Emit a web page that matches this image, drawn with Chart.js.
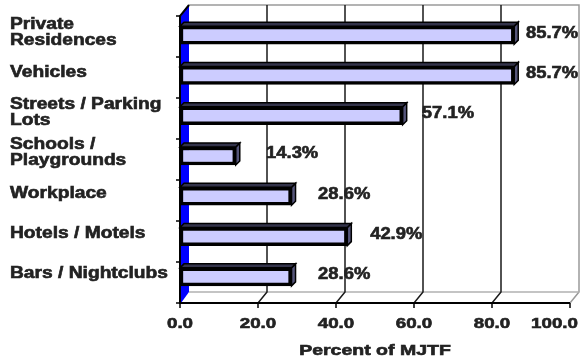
<!DOCTYPE html>
<html>
<head>
<meta charset="utf-8">
<script src="https://cdn.jsdelivr.net/npm/chart.js@4/dist/chart.umd.min.js"></script>
<style>
  html, body { margin: 0; padding: 0; background: #fff; }
  canvas { display: block; }
</style>
</head>
<body>
<canvas id="chart-places" width="582" height="364"></canvas>
<script>
const categories = [
  ["Private", "Residences"],
  "Vehicles",
  ["Streets / Parking", "Lots"],
  ["Schools /", "Playgrounds"],
  "Workplace",
  "Hotels / Motels",
  "Bars / Nightclubs",
];
const percents = [85.7, 85.7, 57.1, 14.3, 28.6, 42.9, 28.6];
const xTicks = [0, 20, 40, 60, 80, 100];
const axisTitle = "Percent of MJTF";

// depth of the fake 3D box (back wall sits up and to the right)
const DX = 9, DY = -11;
const TEXT = "#222";
const FONT = "'Liberation Sans', Arial, sans-serif";

// text drawn a bit wider and heavier than the plain bold face
function wideText(ctx, str, x, y, align, sx) {
  ctx.save();
  ctx.translate(x, y);
  ctx.scale(sx, 1);
  ctx.textAlign = align;
  ctx.lineWidth = 0.6;
  ctx.strokeStyle = TEXT;
  ctx.strokeText(str, 0, 0);
  ctx.fillText(str, 0, 0);
  ctx.restore();
}

function line(ctx, pts, color, w) {
  ctx.beginPath();
  ctx.moveTo(pts[0][0], pts[0][1]);
  for (let i = 1; i < pts.length; i++) ctx.lineTo(pts[i][0], pts[i][1]);
  ctx.strokeStyle = color;
  ctx.lineWidth = w;
  ctx.stroke();
}

const boxPlugin = {
  id: "box",
  beforeDatasetsDraw(chart) {
    const { ctx, chartArea: a, scales: { x } } = chart;
    const fl = a.left, fr = a.right, ft = a.top + 1, fb = a.bottom + 6;
    ctx.save();

    // back wall + floor outline
    line(ctx, [[fl + DX, ft + DY], [fr + DX, ft + DY], [fr + DX, fb + DY], [fr, fb]], "#9a9a9a", 1.5);
    line(ctx, [[fl + DX, fb + DY], [fr + DX, fb + DY]], "#b0b0b0", 1.5);

    // grid lines on back wall and floor
    xTicks.slice(1, -1).forEach(v => {
      const px = x.getPixelForValue(v);
      line(ctx, [[px + DX, ft + DY], [px + DX, fb + DY], [px, fb]], "#1a1a1a", 1.5);
    });

    // blue side wall
    ctx.beginPath();
    ctx.moveTo(fl + 1, ft);
    ctx.lineTo(fl + DX, ft + DY);
    ctx.lineTo(fl + DX, fb + DY);
    ctx.lineTo(fl + 1, fb);
    ctx.closePath();
    ctx.fillStyle = "#0000ff";
    ctx.fill();

    // front axes
    line(ctx, [[fl + DX, ft + DY], [fl, ft], [fl, fb], [fr, fb]], "#000", 2);
    xTicks.forEach(v => {
      const px = x.getPixelForValue(v);
      line(ctx, [[px, fb], [px, fb + 5]], "#000", 1.5);
    });
    const band = (fb - ft) / categories.length;
    for (let i = 0; i <= categories.length; i++) {
      const py = ft + i * band;
      line(ctx, [[fl - 4, py], [fl, py]], "#000", 1.5);
    }
    ctx.restore();
  },
  afterDatasetsDraw(chart) {
    const { ctx, chartArea: a, scales: { x, y } } = chart;
    const bars = chart.getDatasetMeta(0).data;
    ctx.save();

    // side and top faces of each bar
    bars.forEach(b => {
      const h = b.height / 2, d = 4;
      ctx.beginPath();
      ctx.moveTo(b.x, b.y - h);
      ctx.lineTo(b.x + d, b.y - h - d);
      ctx.lineTo(b.x + d, b.y + h - d);
      ctx.lineTo(b.x, b.y + h);
      ctx.closePath();
      ctx.fillStyle = "#55557a";
      ctx.fill();
      ctx.lineWidth = 1.5;
      ctx.strokeStyle = "#000";
      ctx.stroke();
      ctx.beginPath();
      ctx.moveTo(b.base, b.y - h);
      ctx.lineTo(b.base + d, b.y - h - d);
      ctx.lineTo(b.x + d, b.y - h - d);
      ctx.lineTo(b.x, b.y - h);
      ctx.closePath();
      ctx.fillStyle = "#33334a";
      ctx.fill();
      ctx.stroke();
    });

    ctx.fillStyle = TEXT;
    ctx.textBaseline = "middle";

    // value labels
    ctx.font = "bold 16px " + FONT;
    percents.forEach((v, i) => {
      const px = x.getPixelForValue(v) + 34 - 0.26 * v;
      const py = y.getPixelForValue(i) - 2;
      wideText(ctx, v.toFixed(1) + "%", px, py, "left", 1.15);
    });

    // category labels
    ctx.font = "bold 16px " + FONT;
    categories.forEach((c, i) => {
      const lines = Array.isArray(c) ? c : [c];
      const cy = y.getPixelForValue(i) - 3;
      const lh = 16;
      lines.forEach((t, k) => {
        wideText(ctx, t, 10, cy + (k - (lines.length - 1) / 2) * lh, "left", 1.2);
      });
    });

    // x tick labels (kept inside the canvas) and axis title
    ctx.font = "bold 15px " + FONT;
    xTicks.forEach(v => {
      const str = v.toFixed(1);
      const half = ctx.measureText(str).width * 1.25 / 2;
      const cx = Math.min(x.getPixelForValue(v), chart.width - 4 - half);
      wideText(ctx, str, cx, 324, "center", 1.25);
    });
    wideText(ctx, axisTitle, (a.left + a.right) / 2, 351, "center", 1.3);
    ctx.restore();
  },
};

const ctx = document.getElementById("chart-places").getContext("2d");
new Chart(ctx, {
  type: "bar",
  data: {
    labels: categories,
    datasets: [
      {
        data: percents,
        backgroundColor: "#ccccff",
        borderColor: "#000",
        borderWidth: 3.5,
        borderSkipped: false,
        barThickness: 18,
      },
    ],
  },
  options: {
    responsive: false,
    animation: false,
    indexAxis: "y",
    layout: { padding: { left: 180, right: 12, top: 15, bottom: 67 } },
    plugins: { legend: { display: false }, tooltip: { enabled: false } },
    scales: {
      x: { display: false, min: 0, max: 100 },
      y: { display: false },
    },
  },
  plugins: [boxPlugin],
});
</script>
</body>
</html>
